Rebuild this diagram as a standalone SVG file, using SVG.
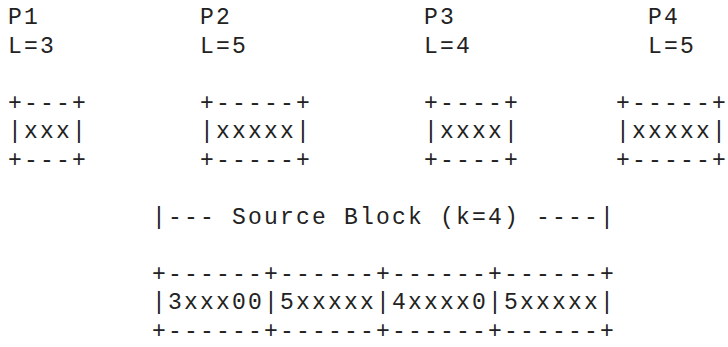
<svg xmlns="http://www.w3.org/2000/svg" width="728" height="347" viewBox="0 0 728 347">
<style>
text{font-family:"Liberation Mono","DejaVu Sans Mono",monospace;font-size:23px;letter-spacing:2.2px;fill:#222;white-space:pre}
</style>
<rect width="728" height="347" fill="#fff"/>
<g id="p1">
<text x="8" y="24">P1</text>
<text x="8" y="52.5">L=3</text>
<text x="8" y="109.5">+---+</text>
<text x="8" y="138">|xxx|</text>
<text x="8" y="166.5">+---+</text>
</g>
<g id="p2">
<text x="200" y="24">P2</text>
<text x="200" y="52.5">L=5</text>
<text x="200" y="109.5">+-----+</text>
<text x="200" y="138">|xxxxx|</text>
<text x="200" y="166.5">+-----+</text>
</g>
<g id="p3">
<text x="424" y="24">P3</text>
<text x="424" y="52.5">L=4</text>
<text x="424" y="109.5">+----+</text>
<text x="424" y="138">|xxxx|</text>
<text x="424" y="166.5">+----+</text>
</g>
<g id="p4">
<text x="648" y="24">P4</text>
<text x="648" y="52.5">L=5</text>
<text x="616" y="109.5">+-----+</text>
<text x="616" y="138">|xxxxx|</text>
<text x="616" y="166.5">+-----+</text>
</g>
<g id="source-block">
<text x="152" y="223.5">|--- Source Block (k=4) ----|</text>
</g>
<g id="block-table">
<text x="152" y="280.5">+------+------+------+------+</text>
<text x="152" y="309">|3xxx00|5xxxxx|4xxxx0|5xxxxx|</text>
<text x="152" y="337.5">+------+------+------+------+</text>
</g>
<g id="connectors"></g>
</svg>
